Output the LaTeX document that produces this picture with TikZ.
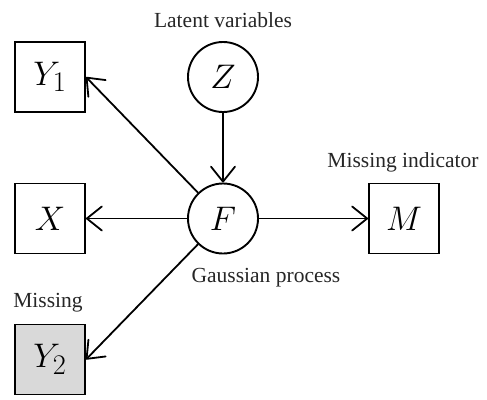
\documentclass[tikz,border=0pt]{standalone}
\usepackage{fontspec}
\setmainfont{Liberation Serif}
\usetikzlibrary{arrows.meta}
\newcommand{\varsym}[1]{\scalebox{1.37}{\fontsize{24.88}{30}\selectfont$#1$}}
\begin{document}
\begin{tikzpicture}[x=1pt,y=-1pt,
  obs/.style={draw,line width=1.9pt,minimum size=70pt,inner sep=0pt},
  lat/.style={draw,circle,line width=1.9pt,minimum size=70pt,inner sep=0pt},
  lbl/.style={inner sep=0pt,font=\fontsize{21.5}{24}\selectfont,text=black!85},
  edge/.style={line width=1.8pt,-{Straight Barb[length=15pt,width=24pt,line width=1.8pt,round]}}]
\useasboundingbox (0,0) rectangle (487,399);
\node[lat] (Z) at (223,77) {\varsym{Z}};
\node[lat] (F) at (223,218.5) {\varsym{F}};
\node[obs] (Y1) at (50,77) {\varsym{Y_1}};
\node[obs] (X) at (50,218.5) {\varsym{X}};
\node[obs] (M) at (404,218.5) {\varsym{M}};
\node[obs,fill=black!15] (Y2) at (50,359.5) {\varsym{Y_2}};
\node[lbl] (lz) at (223,20) {Latent variables};
\node[lbl] (lm) at (403,162) {Missing indicator};
\node[lbl] (lf) at (266,278) {Gaussian process};
\node[lbl] (ly) at (48,303) {Missing};
\draw[edge] (Z) -- (F);
\draw[edge] (F) -- (X);
\draw[edge] (F) -- (M);
\draw[edge] (F) -- (Y1.east);
\draw[edge] (F) -- (Y2.east);
\end{tikzpicture}
\end{document}
